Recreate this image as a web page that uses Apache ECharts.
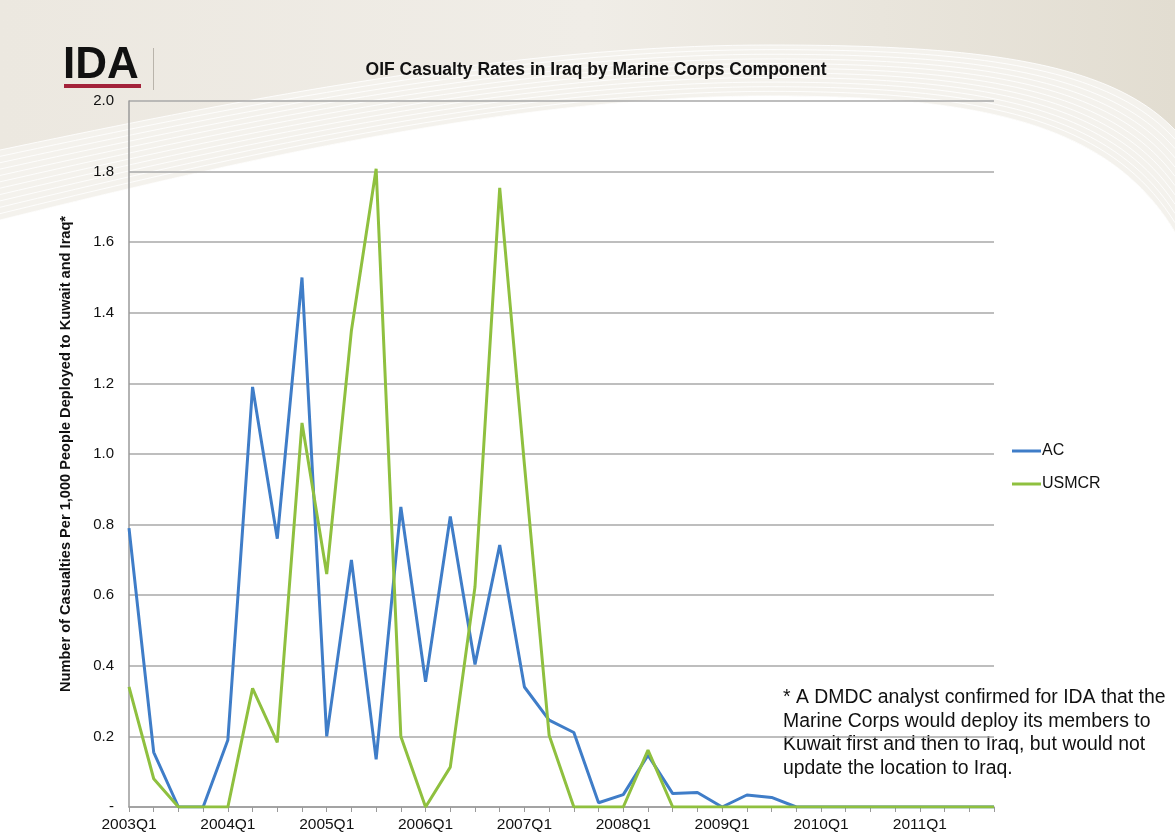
<!DOCTYPE html>
<html>
<head>
<meta charset="utf-8">
<style>
  html, body { margin: 0; padding: 0; background: #ffffff; }
  #chart { width: 1175px; height: 840px; }
</style>
<script src="https://cdn.jsdelivr.net/npm/echarts@6/dist/echarts.min.js"></script>
</head>
<body>
<div id="chart"></div>
<script>
// Quarterly casualty rates per 1,000 Marines deployed, 2003Q1 to 2011Q4
const quarters = [];
for (let y = 2003; y <= 2011; y++) {
  for (let q = 1; q <= 4; q++) quarters.push(y + 'Q' + q);
}

const acRates = [
  0.79, 0.155, 0, 0,
  0.19, 1.19, 0.76, 1.50,
  0.20, 0.70, 0.135, 0.85,
  0.355, 0.823, 0.404, 0.742,
  0.34, 0.246, 0.211, 0.012,
  0.035, 0.147, 0.038, 0.041,
  0, 0.034, 0.027, 0,
  0, 0, 0, 0,
  0, 0, 0, 0
];

const usmcrRates = [
  0.34, 0.08, 0, 0,
  0, 0.336, 0.183, 1.088,
  0.66, 1.35, 1.808, 0.20,
  0, 0.113, 0.624, 1.754,
  0.97, 0.203, 0, 0,
  0, 0.161, 0, 0,
  0, 0, 0, 0,
  0, 0, 0, 0,
  0, 0, 0, 0
];

const seriesNames = ['AC', 'USMCR'];
const chartTitle = 'OIF Casualty Rates in Iraq by Marine Corps Component';
const yAxisTitle = 'Number of Casualties Per 1,000 People Deployed to Kuwait and Iraq*';
const footnote = [
  '* A DMDC analyst confirmed for IDA that the',
  'Marine Corps would deploy its members to',
  'Kuwait first and then to Iraq, but would not',
  'update the location to Iraq.'
];

const sans = '"Liberation Sans", Arial, sans-serif';

// Slide backdrop: a swoosh band made of two cubic segments, sampled into polygons
function cubic(p0, p1, p2, p3, n) {
  const pts = [];
  for (let i = 0; i <= n; i++) {
    const t = i / n, u = 1 - t;
    pts.push([
      u * u * u * p0[0] + 3 * u * u * t * p1[0] + 3 * u * t * t * p2[0] + t * t * t * p3[0],
      u * u * u * p0[1] + 3 * u * u * t * p1[1] + 3 * u * t * t * p2[1] + t * t * t * p3[1]
    ]);
  }
  return pts;
}
// swoosh curve: left edge height a, apex height b (near x=770), right edge height c
function swoosh(a, b, c) {
  return cubic([0, a], [250, a - (a - b) * 0.5], [520, b], [770, b], 40)
    .concat(cubic([770, b], [980, b], [1110, b + (c - b) * 0.2], [1175, c], 40).slice(1));
}
const bandUpper = swoosh(150, 45, 130);
const bandLower = swoosh(220, 96, 232);

const backdrop = [
  {
    type: 'rect', silent: true, z: -10,
    shape: { x: 0, y: 0, width: 1175, height: 330 },
    style: {
      fill: new echarts.graphic.LinearGradient(0, 0, 1, 0, [
        { offset: 0, color: '#ece8e0' },
        { offset: 0.5, color: '#f0ede7' },
        { offset: 1, color: '#e2ddd1' }
      ])
    }
  },
  {
    type: 'polygon', silent: true, z: -10,
    shape: { points: bandLower.concat([[1175, 840], [0, 840]]) },
    style: { fill: '#ffffff' }
  },
  {
    type: 'polygon', silent: true, z: -10,
    shape: { points: bandUpper.concat(bandLower.slice().reverse()) },
    style: { fill: '#f4f2ed' }
  }
];
for (let k = 0; k < 12; k++) {
  const t = k / 11;
  backdrop.push({
    type: 'polyline', silent: true, z: -9,
    shape: { points: swoosh(150 + t * 70, 45 + t * 51, 130 + t * 102) },
    style: { fill: null, stroke: 'rgba(255,255,255,0.85)', lineWidth: 1 }
  });
}

const chart = echarts.init(document.getElementById('chart'));
chart.setOption({
  backgroundColor: '#ffffff',
  animation: false,
  graphic: backdrop.concat([
    {
      type: 'text', silent: true,
      style: { text: 'IDA', x: 63, y: 66, fill: '#111111', font: 'bold 44px ' + sans, textVerticalAlign: 'middle' }
    },
    {
      type: 'rect', silent: true,
      shape: { x: 64, y: 84, width: 77, height: 4 },
      style: { fill: '#a3223a' }
    },
    {
      type: 'rect', silent: true,
      shape: { x: 153, y: 48, width: 1, height: 42 },
      style: { fill: '#b9b4ab' }
    },
    {
      type: 'text', silent: true,
      style: { text: chartTitle, x: 596, y: 70, textAlign: 'center', textVerticalAlign: 'middle', fill: '#111111', font: 'bold 17.5px ' + sans }
    },
    {
      type: 'text', silent: true,
      style: { text: footnote.join('\n'), x: 783, y: 686, fill: '#111111', font: '19.4px ' + sans, lineHeight: 23.5 }
    }
  ]),
  grid: { left: 129, right: 181, top: 101, bottom: 33, containLabel: false },
  legend: {
    orient: 'vertical',
    left: 1012,
    top: 443,
    padding: 0,
    itemGap: 17,
    itemWidth: 29,
    itemHeight: 3,
    icon: 'rect',
    textStyle: { fontFamily: sans, fontSize: 16, color: '#111111', padding: [0, 0, 0, -4] },
    data: seriesNames
  },
  xAxis: {
    type: 'category',
    data: quarters,
    boundaryGap: false,
    axisLine: { lineStyle: { color: '#9a9a9a', width: 1.5 } },
    axisTick: { show: true, interval: 0, length: 5, lineStyle: { color: '#9a9a9a' } },
    axisLabel: { interval: 3, color: '#111111', fontFamily: sans, fontSize: 15.5, margin: 10 },
    splitLine: { show: false }
  },
  yAxis: {
    type: 'value',
    min: 0,
    max: 2,
    interval: 0.2,
    name: yAxisTitle,
    nameLocation: 'middle',
    nameGap: 56,
    nameTextStyle: { fontFamily: sans, fontWeight: 'bold', fontSize: 14.6, color: '#111111' },
    axisLine: { show: true, lineStyle: { color: '#9a9a9a', width: 1.5 } },
    axisTick: { show: false },
    axisLabel: {
      color: '#111111', fontFamily: sans, fontSize: 15, margin: 15,
      formatter: v => (v === 0 ? '-' : v.toFixed(1))
    },
    splitLine: { lineStyle: { color: '#a8a8a8', width: 1.5 } }
  },
  series: [
    {
      name: seriesNames[0],
      type: 'line',
      data: acRates,
      showSymbol: false,
      symbol: 'none',
      color: '#3f7dc8',
      lineStyle: { width: 3, color: '#3f7dc8' }
    },
    {
      name: seriesNames[1],
      type: 'line',
      data: usmcrRates,
      showSymbol: false,
      symbol: 'none',
      color: '#8fc03f',
      lineStyle: { width: 3, color: '#8fc03f' }
    }
  ]
});
</script>
</body>
</html>
